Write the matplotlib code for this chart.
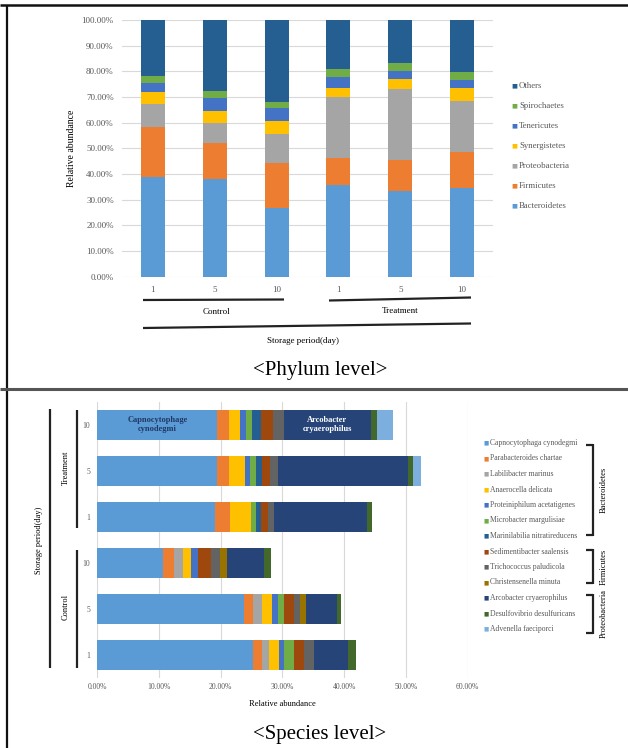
import numpy as np
import matplotlib
matplotlib.use('Agg')
import matplotlib.pyplot as plt
from matplotlib.lines import Line2D

plt.rcParams['font.family'] = ['Liberation Serif', 'DejaVu Serif']

# Phylum level (stacked %, bottom to top), bars: Control 1/5/10, Treatment 1/5/10
days = ['1', '5', '10', '1', '5', '10']
phyla = ['Bacteroidetes', 'Firmicutes', 'Proteobacteria', 'Synergistetes',
         'Tenericutes', 'Spirochaetes', 'Others']
bacteroidetes = [39.0, 37.9, 26.8, 35.6, 33.2, 34.4]
firmicutes = [19.2, 14.3, 17.4, 10.8, 12.1, 14.1]
proteobacteria = [8.9, 7.5, 11.4, 23.6, 27.7, 19.9]
synergistetes = [4.8, 4.8, 5.0, 3.6, 4.1, 5.0]
tenericutes = [3.6, 5.0, 5.2, 4.1, 3.0, 3.2]
spirochaetes = [2.8, 2.8, 2.4, 3.2, 3.3, 3.3]
others = [21.7, 27.7, 31.8, 19.1, 16.6, 20.1]
phylum_values = [bacteroidetes, firmicutes, proteobacteria, synergistetes,
                 tenericutes, spirochaetes, others]
phylum_colors = ['#5B9BD5', '#ED7D31', '#A5A5A5', '#FFC000', '#4472C4',
                 '#70AD47', '#255E91']

# Species level (%), rows bottom to top: Control 1/5/10, Treatment 1/5/10
species = ['Capnocytophaga cynodegmi', 'Parabacteroides chartae',
           'Labilibacter marinus', 'Anaerocella delicata',
           'Proteiniphilum acetatigenes', 'Microbacter margulisiae',
           'Marinilabilia nitratireducens', 'Sedimentibacter saalensis',
           'Trichococcus paludicola', 'Christensenella minuta',
           'Arcobacter cryaerophilus', 'Desulfovibrio desulfuricans',
           'Advenella faeciporci']
capnocytophaga = [25.3, 23.8, 10.7, 19.1, 19.45, 19.45]
parabacteroides = [1.4, 1.5, 1.8, 2.4, 1.85, 1.85]
labilibacter = [1.1, 1.4, 1.4, 0.0, 0.0, 0.0]
anaerocella = [1.6, 1.6, 1.3, 3.4, 2.6, 1.9]
proteiniphilum = [0.9, 1.0, 1.2, 0.0, 0.8, 0.9]
microbacter = [1.5, 1.0, 0.0, 0.9, 1.0, 1.0]
marinilabilia = [0.0, 0.0, 0.0, 0.8, 1.0, 1.4]
sedimentibacter = [1.7, 1.5, 2.1, 1.1, 1.3, 1.9]
trichococcus = [1.7, 1.1, 1.4, 0.9, 1.3, 1.9]
christensenella = [0.0, 0.9, 1.1, 0.0, 0.0, 0.0]
arcobacter = [5.5, 5.0, 6.0, 15.1, 21.1, 14.0]
desulfovibrio = [1.2, 0.7, 1.1, 0.9, 0.8, 1.1]
advenella = [0.0, 0.0, 0.0, 0.0, 1.2, 2.5]
species_values = [capnocytophaga, parabacteroides, labilibacter, anaerocella,
                  proteiniphilum, microbacter, marinilabilia, sedimentibacter,
                  trichococcus, christensenella, arcobacter, desulfovibrio,
                  advenella]
species_colors = ['#5B9BD5', '#ED7D31', '#A5A5A5', '#FFC000', '#4472C4',
                  '#70AD47', '#255E91', '#9E480E', '#636363', '#997300',
                  '#264478', '#43682B', '#7CAFDD']

W, H = 628, 748
fig = plt.figure(figsize=(W / 100, H / 100), dpi=100)


def fx(x):
    return x / W


def fy(y):
    return 1 - y / H


def line(x0, y0, x1, y1, lw=1.6, color='#222222'):
    fig.add_artist(Line2D([fx(x0), fx(x1)], [fy(y0), fy(y1)], lw=lw,
                          color=color, solid_capstyle='butt'))


grey = '#595959'
grid = '#D9D9D9'

# ---- phylum panel ----
ax1 = fig.add_axes([fx(122), fy(276.7), (493 - 122) / W, (276.7 - 20) / H])
x = np.arange(len(days))
bottom = np.zeros(len(days))
for vals, color in zip(phylum_values, phylum_colors):
    ax1.bar(x, vals, 0.39, bottom=bottom, color=color, zorder=2)
    bottom += np.array(vals)
ax1.set_xlim(-0.5, 5.5)
ax1.set_ylim(0, 100)
ax1.set_yticks(np.arange(0, 101, 10))
ax1.set_yticklabels(['%.2f%%' % v for v in np.arange(0, 101, 10)])
ax1.set_xticks(x)
ax1.set_xticklabels(days)
ax1.tick_params(length=0, labelsize=6.5, labelcolor=grey)
ax1.tick_params(axis='y', pad=6)
ax1.tick_params(axis='x', pad=7)
ax1.grid(axis='y', color=grid, lw=0.8, zorder=0)
for s in ax1.spines.values():
    s.set_visible(False)

fig.text(fx(72), fy(148), 'Relative abundance', rotation=90, ha='center',
         va='center', fontsize=7)

# legend (Others on top)
for i, (name, color) in enumerate(zip(phyla[::-1], phylum_colors[::-1])):
    yy = 86 + i * 20
    fig.text(fx(511), fy(yy), '\u25A0', color=color, fontsize=4.5,
             ha='left', va='center', family='DejaVu Sans')
    fig.text(fx(519), fy(yy), name, color=grey, fontsize=6.3, ha='left',
             va='center')

line(143, 300, 284, 299.5)
line(329, 300.5, 471, 297.5)
line(143, 328, 471, 323.5)
fig.text(fx(216), fy(312), 'Control', ha='center', va='center', fontsize=6.5)
fig.text(fx(400), fy(311), 'Treatment', ha='center', va='center', fontsize=6.5)
fig.text(fx(303), fy(341), 'Storage period(day)', ha='center', va='center',
         fontsize=6.5)
fig.text(fx(320), fy(370), '<Phylum level>', ha='center', va='center',
         fontsize=15)

# ---- species panel ----
ax2 = fig.add_axes([fx(97.3), fy(677.7), (467.5 - 97.3) / W, 276 / H])
y = np.arange(len(days))
left = np.zeros(len(days))
for vals, color in zip(species_values, species_colors):
    ax2.barh(y, vals, 0.65, left=left, color=color, zorder=2)
    left += np.array(vals)
ax2.set_ylim(-0.5, 5.5)
ax2.set_xlim(0, 60)
ax2.set_xticks(np.arange(0, 61, 10))
ax2.set_xticklabels(['%.2f%%' % v for v in np.arange(0, 61, 10)])
ax2.set_yticks(y)
ax2.set_yticklabels(days)
ax2.tick_params(length=0, labelsize=5.5, labelcolor=grey)
ax2.tick_params(axis='x', pad=4)
ax2.tick_params(axis='y', pad=5)
ax2.grid(axis='x', color=grid, lw=0.8, zorder=0)
for s in ax2.spines.values():
    s.set_visible(False)

ax2.text(capnocytophaga[5] / 2, 5, 'Capnocytophage\ncynodegmi',
         ha='center', va='center', fontsize=6, fontweight='bold',
         color='#1F3864', zorder=3)
arc_left = sum(v[5] for v in species_values[:10])
ax2.text(arc_left + arcobacter[5] / 2, 5, 'Arcobacter\ncryaerophilus',
         ha='center', va='center', fontsize=6, fontweight='bold',
         color='white', zorder=3)

fig.text(fx(282), fy(704), 'Relative abundance', ha='center', va='center',
         fontsize=6)
fig.text(fx(320), fy(735), '<Species level>', ha='center', va='center',
         fontsize=15)

# group lines on the left
line(77.3, 410, 77.3, 528)
line(77.3, 550, 77.3, 668)
line(50, 409, 50, 668)
fig.text(fx(66), fy(468), 'Treatment', rotation=90, ha='center', va='center',
         fontsize=6)
fig.text(fx(66), fy(607), 'Control', rotation=90, ha='center', va='center',
         fontsize=6)
fig.text(fx(39), fy(540), 'Storage period(day)', rotation=90, ha='center',
         va='center', fontsize=6)

# species legend
for i, (name, color) in enumerate(zip(species, species_colors)):
    yy = 443 + i * 15.5
    fig.text(fx(483), fy(yy), '\u25A0', color=color, fontsize=4,
             ha='left', va='center', family='DejaVu Sans')
    fig.text(fx(490), fy(yy), name, color=grey, fontsize=5.5, ha='left',
             va='center')

# phylum brackets beside the species legend
for top, bot, label in [(445, 535, 'Bacteroidetes'), (550, 583, 'Firmicutes'),
                        (595, 633, 'Proteobacteria')]:
    line(586, top, 593, top)
    line(593, top - 0.8, 593, bot + 0.8)
    line(586, bot, 593, bot)
    fig.text(fx(604), fy((top + bot) / 2), label, rotation=90, ha='center',
             va='center', fontsize=6)

# frame lines
line(0, 5, W, 5, lw=1.8, color='#111111')
line(6.5, 5, 6.5, H, lw=1.6, color='#111111')
line(0, 389, W, 389, lw=2.2, color='#555555')

fig.savefig('out.png', dpi=100)
